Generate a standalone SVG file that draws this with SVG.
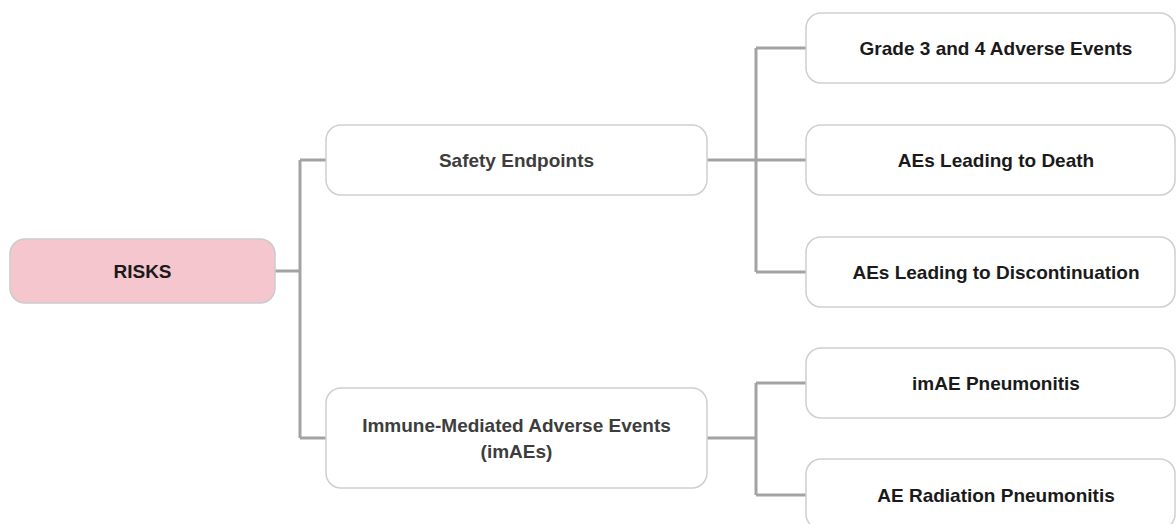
<svg xmlns="http://www.w3.org/2000/svg" width="1176" height="524" viewBox="0 0 1176 524">
<style>
.box{fill:#ffffff;stroke:#cfcfcf;stroke-width:1.5}
.root{fill:#f5c6cd;stroke:#cbcbcb;stroke-width:1.5}
.t{font-family:"Liberation Sans",Arial,sans-serif;font-weight:bold;font-size:19px;text-anchor:middle}
.mid{fill:#3d3d3d}
.dark{fill:#1a1a1a}
.conn{fill:none;stroke:#a3a3a3;stroke-width:3}
</style>
<rect width="1176" height="524" fill="#ffffff"/>
<g id="connectors">
<path class="conn" d="M275 271 H300 M300 160 V438 M300 160 H326 M300 438 H326"/>
<path class="conn" d="M707 160 H806 M756 48 V272 M756 48 H806 M756 272 H806"/>
<path class="conn" d="M707 438 H756 M756 383 V495 M756 383 H806 M756 495 H806"/>
</g>
<g id="risks">
<rect class="root" x="10" y="239" width="265" height="64" rx="15"/>
<text class="t dark" x="142.5" y="278">RISKS</text>
</g>
<g id="safety">
<rect class="box" x="326" y="125" width="381" height="70" rx="15"/>
<text class="t mid" x="516.5" y="167">Safety Endpoints</text>
</g>
<g id="imaes">
<rect class="box" x="326" y="388" width="381" height="100" rx="15"/>
<text class="t mid" x="516.5" y="432">Immune-Mediated Adverse Events</text>
<text class="t mid" x="516.5" y="458">(imAEs)</text>
</g>
<g id="grade34">
<rect class="box" x="806" y="13" width="369" height="70" rx="15"/>
<text class="t dark" x="996" y="55">Grade 3 and 4 Adverse Events</text>
</g>
<g id="death">
<rect class="box" x="806" y="125" width="369" height="70" rx="15"/>
<text class="t dark" x="996" y="167">AEs Leading to Death</text>
</g>
<g id="discontinuation">
<rect class="box" x="806" y="237" width="369" height="70" rx="15"/>
<text class="t dark" x="996" y="279">AEs Leading to Discontinuation</text>
</g>
<g id="imae-pneumonitis">
<rect class="box" x="806" y="348" width="369" height="70" rx="15"/>
<text class="t dark" x="996" y="390">imAE Pneumonitis</text>
</g>
<g id="radiation-pneumonitis">
<rect class="box" x="806" y="459" width="369" height="70" rx="15"/>
<text class="t dark" x="996" y="502">AE Radiation Pneumonitis</text>
</g>
</svg>
